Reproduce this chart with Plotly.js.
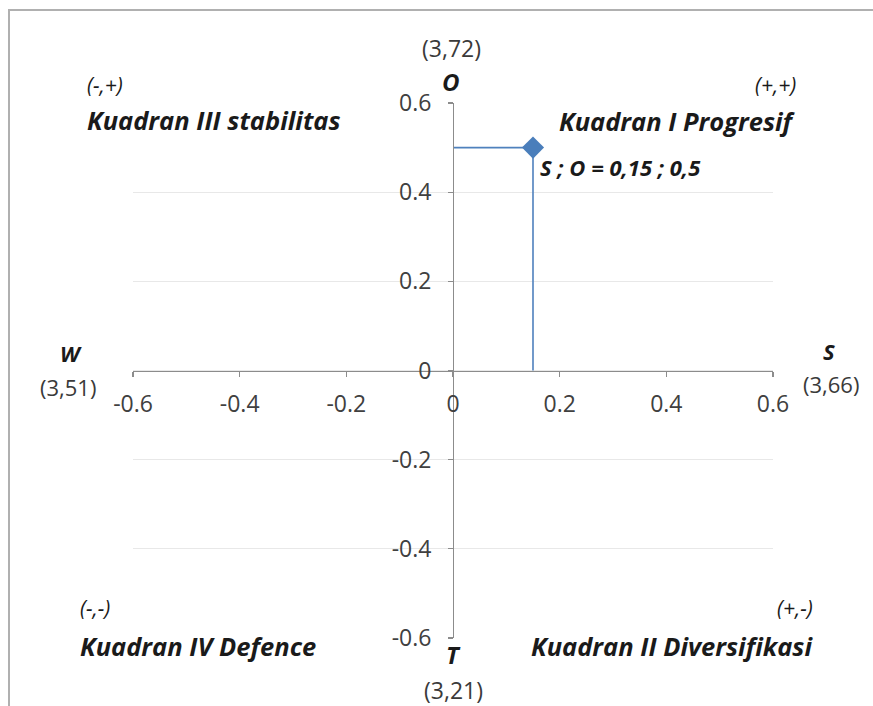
<!DOCTYPE html>
<html>
<head>
<meta charset="utf-8">
<script src="https://cdn.plot.ly/plotly-3.0.1.min.js"></script>
<style>html,body{margin:0;padding:0;background:#fff;}#chart{width:873px;height:706px;}</style>
</head>
<body>
<div id="chart"></div>
<script>
// ---- data ----
var pointS = [0.15];
var pointO = [0.5];
var pathX = [0, 0.15, 0.15];
var pathY = [0.5, 0.5, 0];
var tickVals = [-0.6, -0.4, -0.2, 0, 0.2, 0.4, 0.6];
var tickText = ['-0.6', '-0.4', '-0.2', '0', '0.2', '0.4', '0.6'];
var pointLabel = 'S ; O = 0,15 ; 0,5';
var axisNames = {top: 'O', bottom: 'T', left: 'W', right: 'S'};
var axisScores = {top: '(3,72)', bottom: '(3,21)', left: '(3,51)', right: '(3,66)'};
var quadrantNames = ['Kuadran I Progresif', 'Kuadran II Diversifikasi', 'Kuadran III stabilitas', 'Kuadran IV Defence'];
var quadrantSigns = ['(+,+)', '(+,-)', '(-,+)', '(-,-)'];

// ---- layout helpers (pixel -> paper) ----
var W = 873, H = 706, ML = 133, MR = 100, MT = 103, MB = 68;
var PW = W - ML - MR, PH = H - MT - MB;
function px(x) { return (x - ML) / PW; }
function py(y) { return (H - MB - y) / PH; }

var FONT = '"Open Sans", Lato, sans-serif';
var BI = function (s) { return '<b><i>' + s + '</i></b>'; };
var IT = function (s) { return '<i>' + s + '</i>'; };

function ann(text, x, y, xanchor, size, color) {
  return {text: text, xref: 'paper', yref: 'paper', x: px(x), y: py(y),
    xanchor: xanchor, yanchor: 'middle', showarrow: false,
    font: {family: FONT, size: size, color: color || '#1a1a1a'}};
}

var QS = 25.5;
var annotations = [
  ann(axisScores.top, 451, 48, 'center', 23, '#3a3a3a'),
  ann(BI(axisNames.top), 451, 82, 'center', 24),
  ann(IT(quadrantSigns[2]), 85, 85, 'left', 21),
  ann(BI(quadrantNames[2]), 85, 120, 'left', QS),
  ann(IT(quadrantSigns[0]), 798, 85, 'right', 21),
  ann(BI(quadrantNames[0]), 798, 121, 'right', QS),
  ann(BI(axisNames.left), 71, 353, 'center', 22),
  ann(axisScores.left, 68, 387, 'center', 22, '#3a3a3a'),
  ann(BI(axisNames.right), 829, 351, 'center', 22),
  ann(axisScores.right, 831, 384, 'center', 22, '#3a3a3a'),
  ann(IT(quadrantSigns[3]), 78, 608, 'left', 21),
  ann(BI(quadrantNames[3]), 78, 646, 'left', QS),
  ann(IT(quadrantSigns[1]), 815, 608, 'right', 21),
  ann(BI(quadrantNames[1]), 815, 646, 'right', QS),
  ann(BI(axisNames.bottom), 453, 654, 'center', 24),
  ann(axisScores.bottom, 453, 690, 'center', 23, '#3a3a3a'),
  {text: BI(pointLabel), xref: 'x', yref: 'y', x: pointS[0], y: pointO[0],
   xanchor: 'left', yanchor: 'middle', xshift: 5, yshift: -19, showarrow: false,
   font: {family: FONT, size: 22, color: '#1a1a1a'}}
];

var traces = [
  {x: pathX, y: pathY, mode: 'lines', type: 'scatter',
   line: {color: '#4f81bd', width: 1.6}, hoverinfo: 'skip', showlegend: false},
  {x: pointS, y: pointO, mode: 'markers', type: 'scatter',
   marker: {symbol: 'diamond', size: 17, color: '#4a7ebb'}, showlegend: false}
];

var axisCommon = {
  range: [-0.6, 0.6], tickvals: tickVals, ticktext: tickText,
  showline: true, linecolor: '#8c8c8c', linewidth: 1.3,
  ticks: 'outside', ticklen: 5, tickcolor: '#8c8c8c', tickwidth: 1.3,
  zeroline: false, fixedrange: true,
  tickfont: {family: FONT, size: 23, color: '#404040'},
  anchor: 'free', position: 0.5
};

var layout = {
  width: W, height: H,
  margin: {l: ML, r: MR, t: MT, b: MB, pad: 0},
  paper_bgcolor: '#ffffff', plot_bgcolor: '#ffffff',
  xaxis: Object.assign({}, axisCommon, {showgrid: false, ticklabelstandoff: 8}),
  yaxis: Object.assign({}, axisCommon, {showgrid: true, gridcolor: '#e8e8e8', gridwidth: 1.2, ticklabelstandoff: 12}),
  annotations: annotations,
  shapes: [
    {type: 'line', xref: 'paper', yref: 'paper', x0: px(8), x1: px(873), y0: py(10), y1: py(10),
     line: {color: '#b0b0b0', width: 2}},
    {type: 'line', xref: 'paper', yref: 'paper', x0: px(9), x1: px(9), y0: py(10), y1: py(706),
     line: {color: '#b0b0b0', width: 2}}
  ],
  showlegend: false
};

Plotly.newPlot('chart', traces, layout, {displayModeBar: false, staticPlot: true});
</script>
</body>
</html>
